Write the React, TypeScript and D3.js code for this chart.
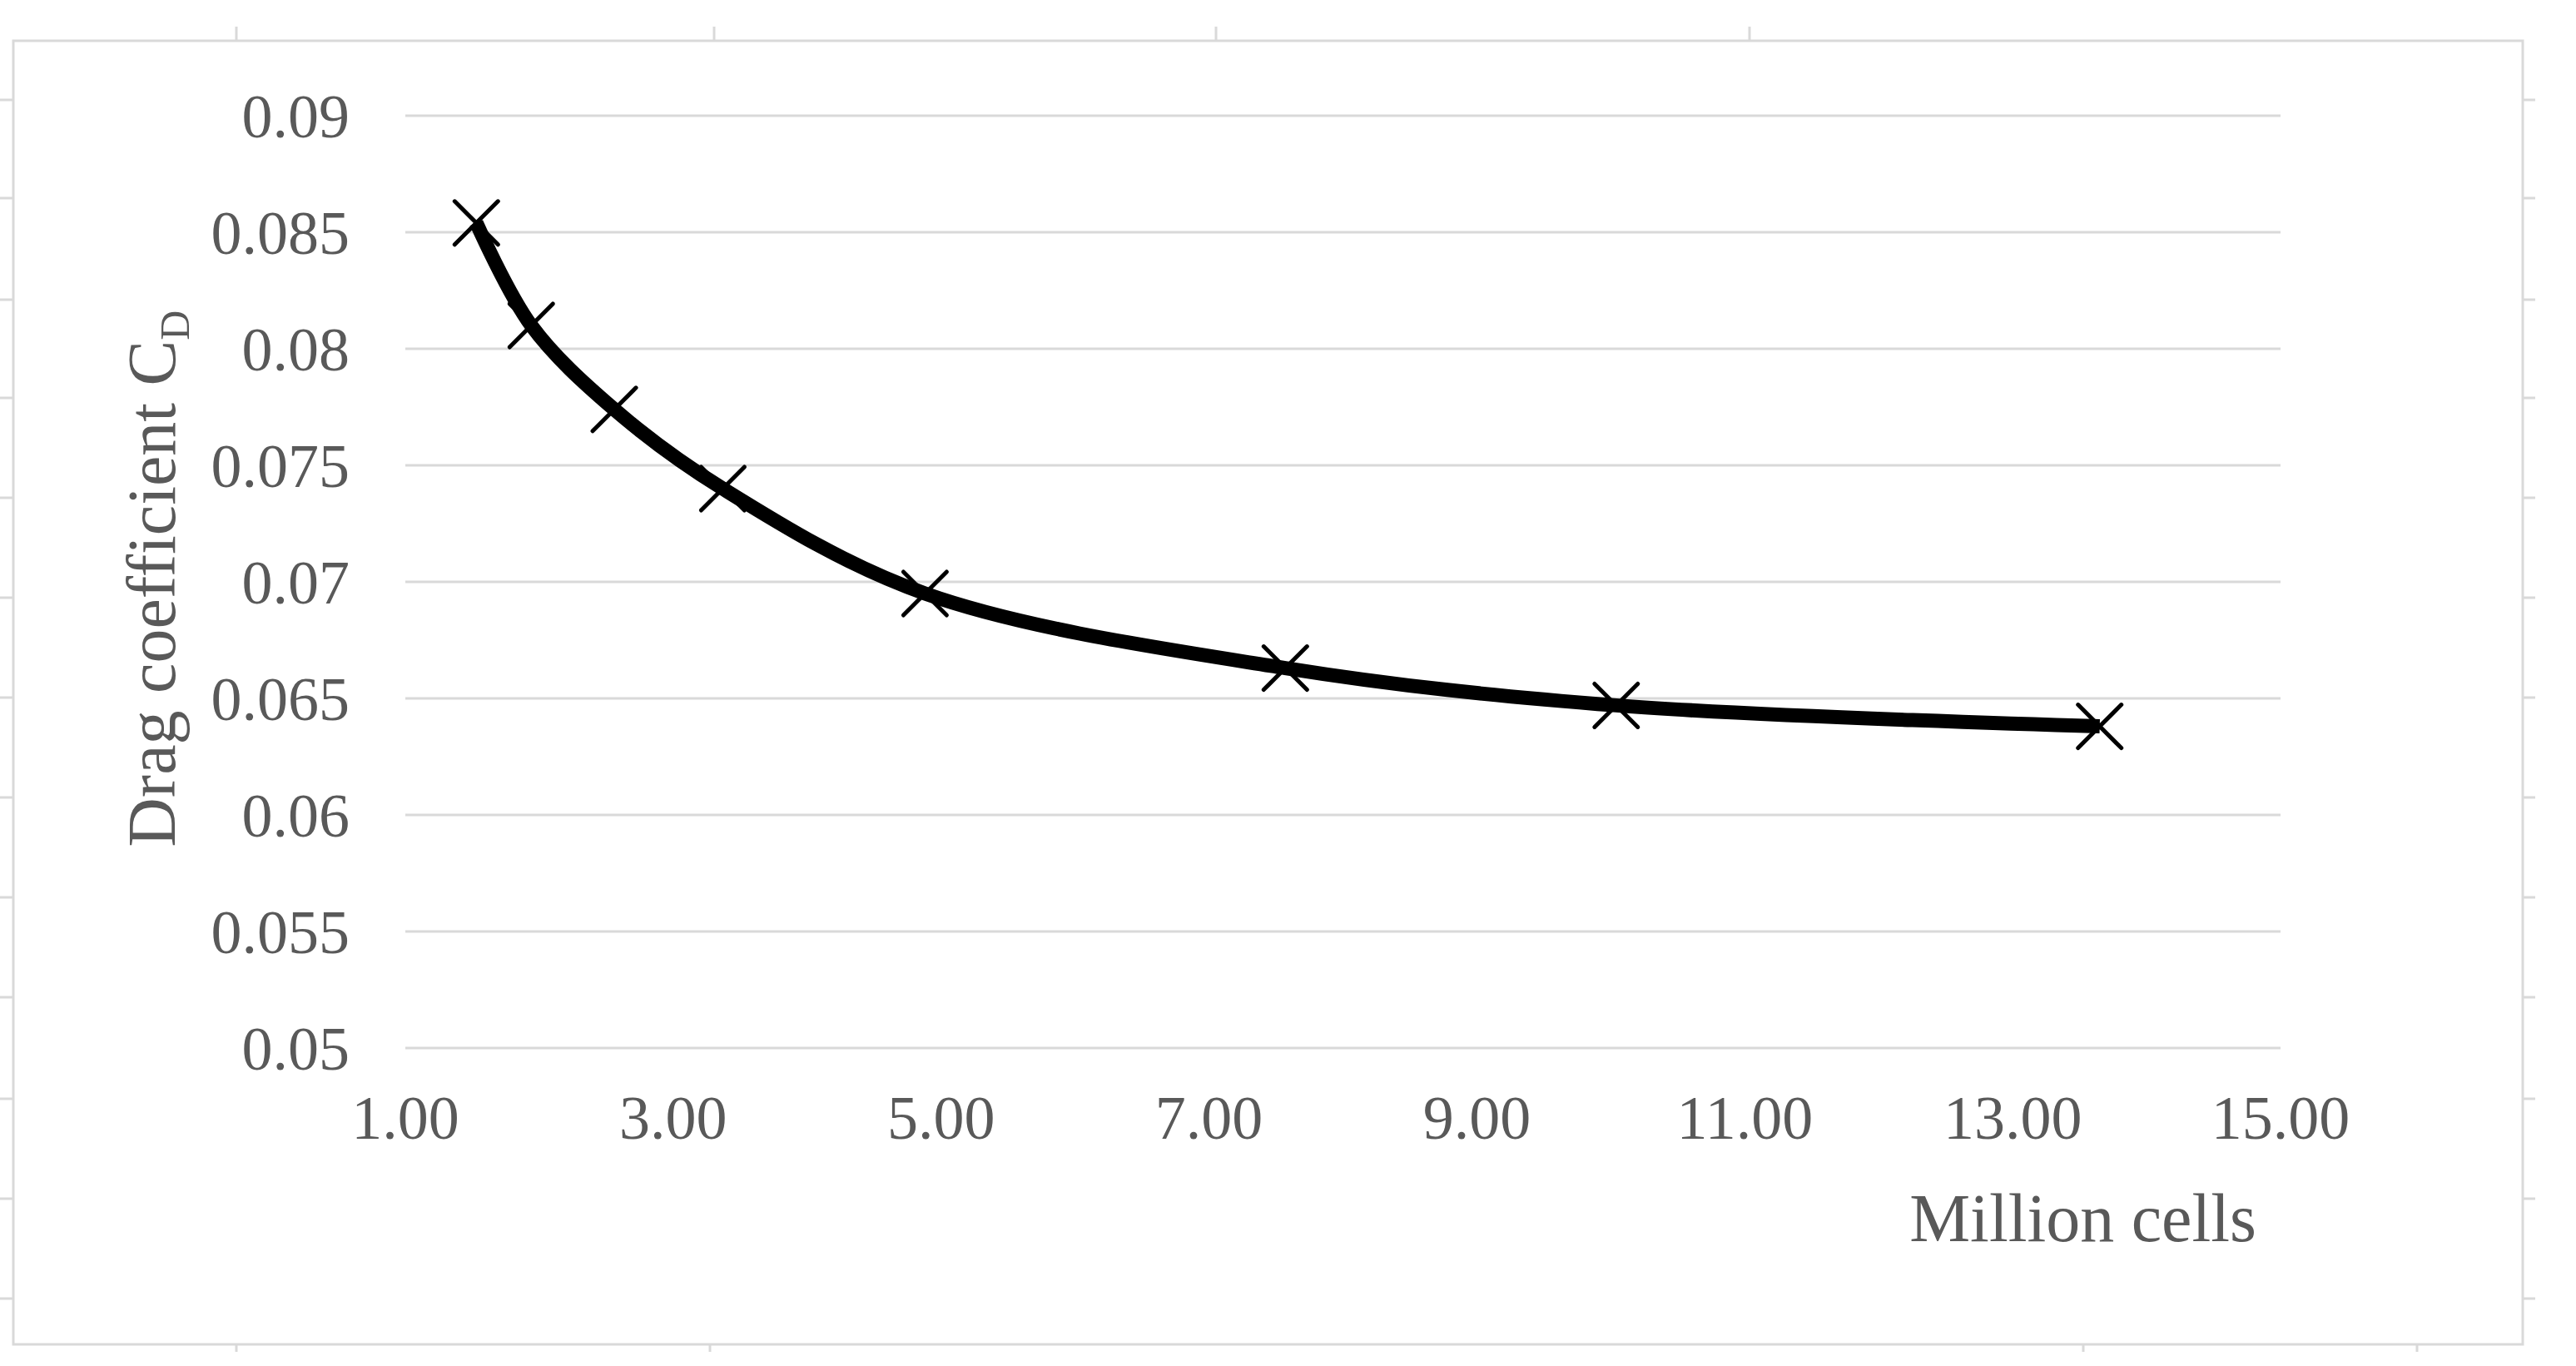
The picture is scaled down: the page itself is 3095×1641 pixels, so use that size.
import React from 'react';
import * as d3 from 'd3';

// mesh size (million cells) vs drag coefficient
const cells = [1.53, 1.94, 2.56, 3.37, 4.88, 7.57, 10.04, 13.65];
const dragCoef = [0.0854, 0.0810, 0.0774, 0.0740, 0.0695, 0.0663, 0.0647, 0.0638];

const xTicks = [1, 3, 5, 7, 9, 11, 13, 15];
const yTicks = [0.05, 0.055, 0.06, 0.065, 0.07, 0.075, 0.08, 0.085, 0.09];
const yTickLabels = ['0.05', '0.055', '0.06', '0.065', '0.07', '0.075', '0.08', '0.085', '0.09'];

// stray marks left over from the page the chart was cut from
const topStubs = [284, 858, 1461, 2102];
const bottomStubs = [284, 853, 2503, 2904];
const sideStubs = [120, 238, 360, 478, 598, 718, 838, 958, 1078, 1198, 1320, 1440, 1560];

const W = 3095;
const H = 1641;
const grid = '#d9d9d9';
const textCol = '#595959';
const font = '"Liberation Serif", "Times New Roman", serif';

const App = () => {
  const x = d3.scaleLinear().domain([1, 15]).range([487, 2740]);
  const y = d3.scaleLinear().domain([0.05, 0.09]).range([1259, 139]);
  const fmtX = d3.format('.2f');

  const pts = cells.map((c, i) => [c, dragCoef[i]] as [number, number]);
  const line = d3.line<[number, number]>()
    .x(d => x(d[0]))
    .y(d => y(d[1]))
    .curve(d3.curveCatmullRom.alpha(0.5));

  const m = 26; // half size of the X marker

  return (
    <svg width={W} height={H} style={{ position: 'absolute', left: 0, top: 0, background: 'white' }}>
      <rect x={0} y={0} width={W} height={H} fill="white" />

      {topStubs.map((s, i) => (
        <line key={'t' + i} x1={s} x2={s} y1={32} y2={49} stroke={grid} strokeWidth={3} />
      ))}
      {bottomStubs.map((s, i) => (
        <line key={'b' + i} x1={s} x2={s} y1={1615} y2={1624} stroke={grid} strokeWidth={3} />
      ))}
      {sideStubs.map((s, i) => (
        <g key={'s' + i}>
          <line x1={0} x2={16} y1={s} y2={s} stroke={grid} strokeWidth={3} />
          <line x1={3031} x2={3046} y1={s} y2={s} stroke={grid} strokeWidth={3} />
        </g>
      ))}

      <rect x={16} y={49} width={3015} height={1566} fill="white" stroke={grid} strokeWidth={3} />

      {/* horizontal gridlines */}
      {yTicks.map((t, i) => (
        <g key={'y' + i}>
          <line x1={x(1)} x2={x(15)} y1={y(t)} y2={y(t)} stroke={grid} strokeWidth={3} />
          <text x={420} y={y(t)} dy="0.35em" textAnchor="end" fontFamily={font} fontSize={74} fill={textCol}>
            {yTickLabels[i]}
          </text>
        </g>
      ))}

      {xTicks.map((t, i) => (
        <text key={'x' + i} x={x(t)} y={1368} textAnchor="middle" fontFamily={font} fontSize={74} fill={textCol}>
          {fmtX(t)}
        </text>
      ))}

      <text x={2711} y={1491} textAnchor="end" fontFamily={font} fontSize={82} fill={textCol}>
        Million cells
      </text>

      <text transform="translate(210,695) rotate(-90)" textAnchor="middle" fontFamily={font} fontSize={82} fill={textCol}>
        Drag coefficient C<tspan fontSize={50} dy={17}>D</tspan>
      </text>

      <path d={line(pts) || ''} fill="none" stroke="#000" strokeWidth={17} strokeLinejoin="round" strokeLinecap="butt" />

      {pts.map((p, i) => {
        const cx = x(p[0]);
        const cy = y(p[1]);
        return (
          <g key={'m' + i} stroke="#000" strokeWidth={5} strokeLinecap="round">
            <line x1={cx - m} y1={cy - m} x2={cx + m} y2={cy + m} />
            <line x1={cx - m} y1={cy + m} x2={cx + m} y2={cy - m} />
          </g>
        );
      })}
    </svg>
  );
};

export default App;
